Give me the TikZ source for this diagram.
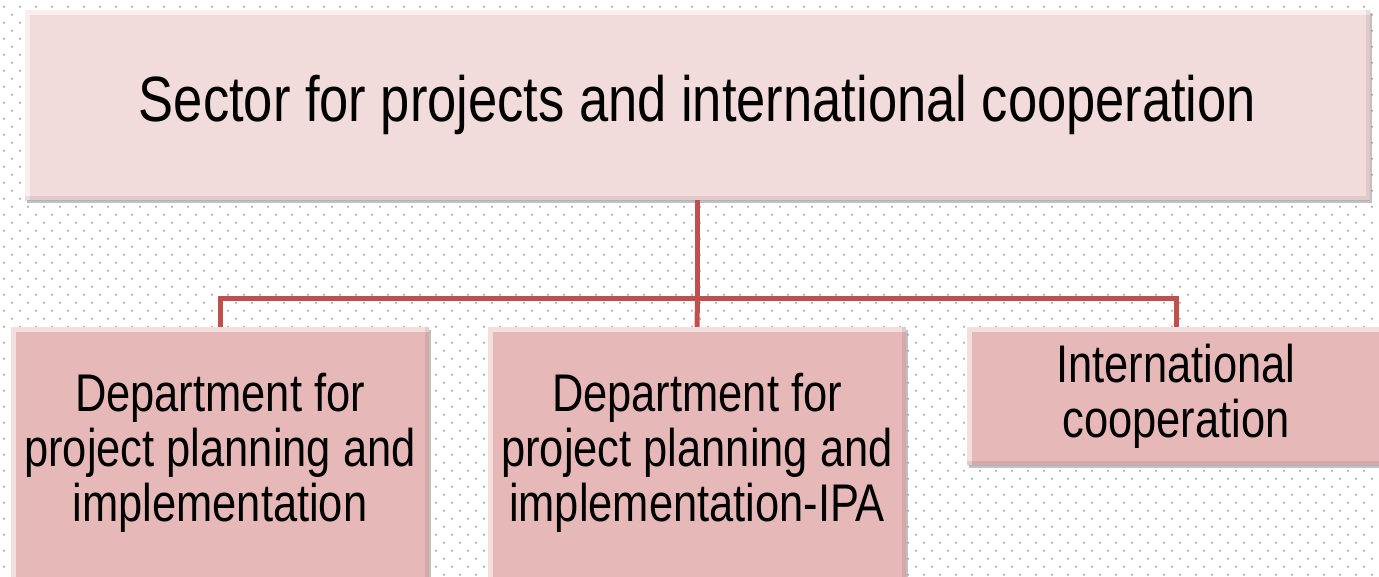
\documentclass[tikz,border=0pt]{standalone}
\usepackage{fontspec}
\setmainfont[FakeStretch=0.82]{Liberation Sans}
\usetikzlibrary{positioning,shadows}
\definecolor{topfill}{HTML}{F2DCDB}
\definecolor{subfill}{HTML}{E6B9B8}
\definecolor{linkred}{HTML}{C0504D}
\definecolor{dotgray}{HTML}{B4B4B4}
\tikzset{
    bevel/.style={
        drop shadow={shadow xshift=2pt, shadow yshift=-3pt, fill=black!40, opacity=.6},
        path picture={
            \draw[white, opacity=.55, line width=9pt]
                (path picture bounding box.south west) -- (path picture bounding box.north west)
                -- (path picture bounding box.north east);
            \draw[black, opacity=.08, line width=9pt]
                (path picture bounding box.north east) -- (path picture bounding box.south east)
                -- (path picture bounding box.south west);
        }
    },
    sectorbox/.style={bevel, fill=topfill, inner sep=0pt, align=center,
        minimum width=1345pt, minimum height=190pt, font=\fontsize{64}{70}\selectfont},
    unitbox/.style={bevel, fill=subfill, inner sep=0pt, align=center,
        minimum width=418pt, font=\fontsize{53}{55}\selectfont},
    link/.style={draw=linkred, line width=5pt}
}
\begin{document}
\begin{tikzpicture}[x=1pt, y=-1pt]
\clip (0,0) rectangle (1379,576);
% dotted background
\foreach \r in {0,...,71}{
    \pgfmathsetmacro\yy{6.7+8*\r}
    \pgfmathsetmacro\xo{4+8*mod(\r,2)}
    \fill[dotgray] foreach \c in {0,...,86} {(\xo+16*\c-0.8,\yy-0.8) rectangle ++(1.6,1.6)};
}

\node[sectorbox] (sector) at (697.5,105) {Sector for projects and international cooperation};
\node[unitbox, minimum height=256pt] (planning) at (220,455) {\raisebox{3pt}{\begin{tabular}{@{}c@{}}Department for\\project planning and\\implementation\end{tabular}}};
\node[unitbox, minimum height=256pt] (ipa) at (697,455) {\raisebox{3pt}{\begin{tabular}{@{}c@{}}Department for\\project planning and\\implementation-IPA\end{tabular}}};
\node[unitbox, minimum height=138pt] (intl) at (1176,396) {International\\cooperation};

\coordinate (hub) at (697.5,298);
\draw[link] (sector.south) -- (hub);
\draw[link] (planning.north) |- (hub) -| (intl.north);
\draw[link] (hub) -- (ipa.north);
\end{tikzpicture}
\end{document}
